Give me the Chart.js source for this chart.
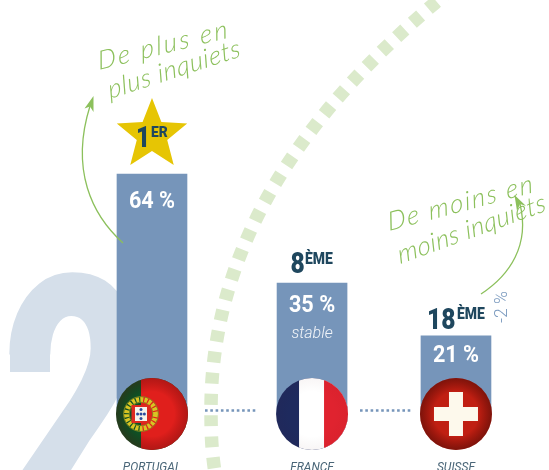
<!DOCTYPE html>
<html><head><meta charset="utf-8">
<style>html,body{margin:0;padding:0;background:#fff;overflow:hidden}canvas{display:block}</style>
<script src="https://cdn.jsdelivr.net/npm/chart.js@4/dist/chart.umd.min.js"></script>
</head><body><canvas id="c" width="549" height="470"></canvas>
<script>
const categories = ["PORTUGAL", "FRANCE", "SUISSE"];
const shares = [64, 35, 21];
const rankNumbers = ["1", "8", "18"];
const rankSuffixes = ["ER", "ÈME", "ÈME"];
const notes = ["", "stable", ""];
const slots = [0, 1.053, 2];

const BLUE = "#7695ba", GREEN = "#8cc05c", NAVY = "#1f475e";

function scaledText(ctx, txt, x, y, font, sx, align) {
  ctx.save(); ctx.font = font; ctx.translate(x, y); ctx.scale(sx, 1);
  ctx.textAlign = align || "left"; ctx.textBaseline = "alphabetic";
  ctx.fillText(txt, 0, 0); ctx.restore();
}
function rotText(ctx, txt, x, y, deg, font, color, spacing) {
  ctx.save(); ctx.translate(x, y); ctx.rotate(deg * Math.PI / 180);
  ctx.font = font; ctx.fillStyle = color; ctx.textAlign = "left"; ctx.textBaseline = "alphabetic";
  ctx.letterSpacing = spacing + "px";
  ctx.transform(1, 0, -0.12, 1, 0, 0);
  ctx.fillText(txt, 0, 0); ctx.restore();
}
function disc(ctx, x, y, r, paint, edge) {
  ctx.save(); ctx.beginPath(); ctx.arc(x, y, r, 0, Math.PI * 2); ctx.clip();
  paint();
  const g = ctx.createRadialGradient(x, y, r * 0.62, x, y, r);
  g.addColorStop(0, "rgba(60,0,0,0)"); g.addColorStop(1, edge);
  ctx.fillStyle = g; ctx.fillRect(x - r, y - r, r * 2, r * 2);
  ctx.restore();
}
function flagPortugal(ctx, x, y, r) {
  disc(ctx, x, y, r, () => {
    ctx.fillStyle = "#0d5326"; ctx.fillRect(x - r, y - r, 2 * r, 2 * r);
    ctx.fillStyle = "#e01f1c"; ctx.fillRect(x - 11, y - r, 2 * r, 2 * r);
  }, "rgba(90,10,10,0.34)");
  const cx = x - 11;
  ctx.save();
  ctx.strokeStyle = "#d8c423"; ctx.lineWidth = 5; ctx.setLineDash([3, 1.2]);
  ctx.beginPath(); ctx.arc(cx, y, 14.5, 0, Math.PI * 2); ctx.stroke();
  ctx.setLineDash([]);
  ctx.strokeStyle = "#8a8a1e"; ctx.lineWidth = 0.9;
  ctx.beginPath(); ctx.arc(cx, y, 17.4, 0, Math.PI * 2); ctx.stroke();
  ctx.beginPath(); ctx.arc(cx, y, 11.8, 0, Math.PI * 2); ctx.stroke();
  ctx.fillStyle = "#dd2a20";
  ctx.fillRect(cx - 9.5, y - 9, 19, 18);
  ctx.fillStyle = "#f5f3ea"; ctx.fillRect(cx - 6, y - 7, 12, 14);
  ctx.fillStyle = "#2a4a9c";
  [[0, -4.5], [-3.4, 0], [0, 0], [3.4, 0], [0, 4.5]].forEach(p => {
    ctx.beginPath(); ctx.arc(cx + p[0], y + p[1], 1.5, 0, Math.PI * 2); ctx.fill();
  });
  ctx.restore();
}
function flagFrance(ctx, x, y, r) {
  disc(ctx, x, y, r, () => {
    ctx.fillStyle = "#1e2a5e"; ctx.fillRect(x - r, y - r, 2 * r, 2 * r);
    ctx.fillStyle = "#fff"; ctx.fillRect(x - 13, y - r, 2 * r, 2 * r);
    ctx.fillStyle = "#e0232f"; ctx.fillRect(x + 12, y - r, 2 * r, 2 * r);
  }, "rgba(90,10,20,0.04)");
}
function flagSwiss(ctx, x, y, r) {
  disc(ctx, x, y, r, () => {
    ctx.fillStyle = "#c01f12"; ctx.fillRect(x - r, y - r, 2 * r, 2 * r);
  }, "rgba(70,10,5,0.55)");
  ctx.fillStyle = "#fdf9ec";
  ctx.fillRect(x - 22, y - 7, 44, 14);
  ctx.fillRect(x - 7, y - 22, 14, 44);
}
const flags = [flagPortugal, flagFrance, flagSwiss];

const backdrop = {
  id: "backdrop",
  beforeDatasetsDraw(chart) {
    const ctx = chart.ctx;
    ctx.save();
    ctx.fillStyle = "#d5dfea";
    scaledText(ctx, "2", 2, 521, "900 345px Roboto", 0.72);
    ctx.fillRect(10, 345, 40, 27);
    ctx.strokeStyle = "#dbeacb"; ctx.lineWidth = 13.5;
    ctx.setLineDash([11, 10.2]); ctx.lineDashOffset = 16.1;
    ctx.beginPath(); ctx.moveTo(211, 410);
    ctx.bezierCurveTo(211, 220, 335, 88, 435, 3);
    ctx.lineTo(460, -18); ctx.stroke();
    ctx.beginPath(); ctx.moveTo(211, 410);
    ctx.bezierCurveTo(211, 440, 212, 456, 217, 485); ctx.stroke();
    ctx.restore();
  }
};

const overlay = {
  id: "overlay",
  afterDatasetsDraw(chart) {
    const ctx = chart.ctx, xs = chart.scales.x, ys = chart.scales.y;
    const base = ys.getPixelForValue(0);
    ctx.save();
    ctx.strokeStyle = BLUE; ctx.lineWidth = 2.6; ctx.setLineDash([2.6, 2.7]);
    [[205, 257], [360, 412]].forEach(s => {
      ctx.beginPath(); ctx.moveTo(s[0], base - 4.5); ctx.lineTo(s[1], base - 4.5); ctx.stroke();
    });
    ctx.setLineDash([]);
    const labelDrop = [34, 29, 26];
    shares.forEach((v, i) => {
      const x = xs.getPixelForValue(slots[i]), top = ys.getPixelForValue(v);
      flags[i](ctx, x, base - 1, 36);
      ctx.fillStyle = "#fff";
      scaledText(ctx, v + " %", x, top + labelDrop[i], "700 24px Roboto", 0.9, "center");
      if (notes[i]) {
        ctx.font = "italic 300 16px Roboto"; ctx.textAlign = "center";
        ctx.fillStyle = "#f2f5f9"; ctx.fillText(notes[i], x, top + 54.5);
      }
    });
    const sx = xs.getPixelForValue(slots[0]), sy = 135;
    ctx.fillStyle = "#e6c504"; ctx.beginPath();
    for (let k = 0; k < 10; k++) {
      const r = k % 2 ? 16 : 37, a = -Math.PI / 2 + k * Math.PI / 5;
      ctx[k ? "lineTo" : "moveTo"](sx + r * Math.cos(a), sy + r * Math.sin(a));
    }
    ctx.closePath(); ctx.fill();
    ctx.fillStyle = NAVY;
    const rankPos = [[136, 147, 151, 137, 14.5, 0.95], [290.5, 273, 305, 264, 17, 0.82], [427, 329, 457, 318.5, 17, 0.82]];
    rankPos.forEach((p, i) => {
      scaledText(ctx, rankNumbers[i], p[0], p[1], "900 30px Roboto", 0.82);
      scaledText(ctx, rankSuffixes[i], p[2], p[3], "900 " + p[4] + "px Roboto", p[5]);
    });
    ctx.save(); ctx.translate(507, 323); ctx.rotate(-Math.PI / 2);
    ctx.font = "300 17.5px Roboto"; ctx.fillStyle = "#7d9cc0"; ctx.textAlign = "left";
    ctx.fillText("-2 %", 0, 0); ctx.restore();
    const hand = "italic 300 26px Lato";
    rotText(ctx, "De plus en", 99, 70, -14, hand, GREEN, 2.4);
    rotText(ctx, "plus inquiets", 110, 99, -18, hand, GREEN, 0.6);
    rotText(ctx, "De moins en", 389, 231, -15, hand, GREEN, 1.8);
    rotText(ctx, "moins inquiets", 400, 264, -20, hand, GREEN, 0.4);
    ctx.strokeStyle = GREEN; ctx.fillStyle = GREEN; ctx.lineWidth = 1.3;
    ctx.beginPath(); ctx.moveTo(123, 243);
    ctx.bezierCurveTo(92, 215, 70, 170, 90, 106); ctx.stroke();
    ctx.beginPath(); ctx.moveTo(93.5, 96); ctx.lineTo(84.5, 108.5); ctx.lineTo(90, 106.5); ctx.lineTo(93.5, 112); ctx.closePath(); ctx.fill();
    ctx.beginPath(); ctx.moveTo(481, 294);
    ctx.bezierCurveTo(510, 275, 530, 245, 520, 204); ctx.stroke();
    ctx.beginPath(); ctx.moveTo(514.5, 195); ctx.lineTo(517, 211); ctx.lineTo(520, 204); ctx.lineTo(526, 206); ctx.closePath(); ctx.fill();
    ctx.restore();
  }
};

new Chart(document.getElementById("c"), {
  type: "bar",
  data: {
    datasets: [{
      data: shares.map((v, i) => ({ x: slots[i], y: v })),
      backgroundColor: BLUE,
      barThickness: 70,
      borderWidth: 0
    }]
  },
  options: {
    responsive: false,
    animation: false,
    layout: { padding: 0 },
    plugins: { legend: { display: false }, tooltip: { enabled: false } },
    scales: {
      x: {
        type: "linear", min: -1, max: 2.612, offset: false,
        grid: { display: false, drawTicks: false },
        border: { display: false },
        afterBuildTicks(s) { s.ticks = slots.map(v => ({ value: v })); },
        afterFit(s) { s.height = 55; s.paddingLeft = 0; s.paddingRight = 0; },
        ticks: {
          autoSkip: false, maxRotation: 0, padding: 46,
          color: "#4a6678", font: { family: "Roboto", size: 12, style: "italic", weight: "400" },
          callback: (v, i) => categories[i]
        }
      },
      y: { display: false, min: 0, max: 110.2 }
    }
  },
  plugins: [backdrop, overlay]
});
</script></body></html>
